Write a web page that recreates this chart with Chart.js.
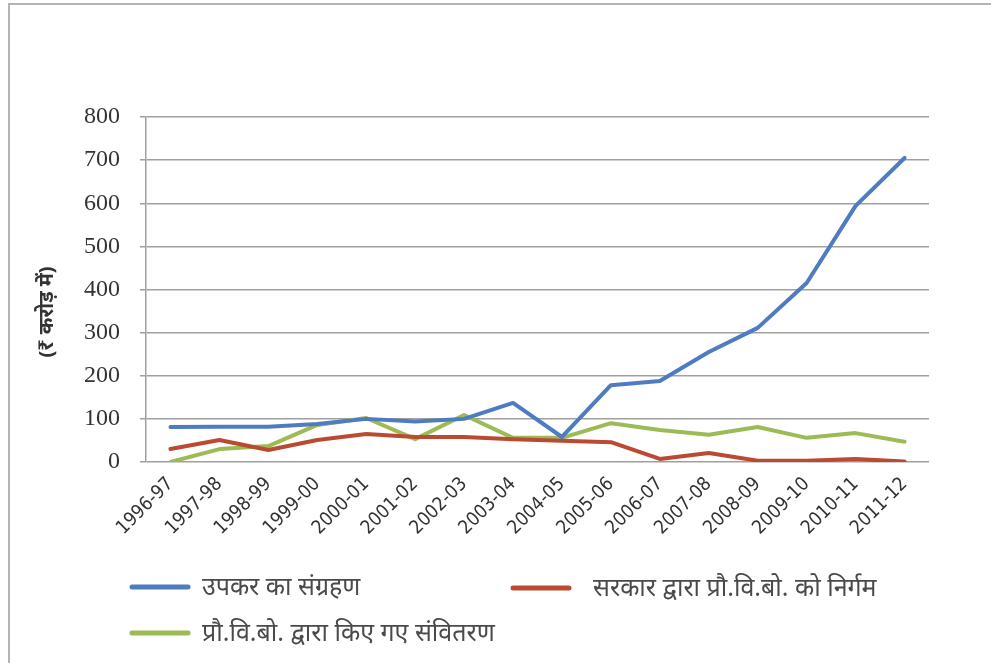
<!DOCTYPE html>
<html>
<head>
<meta charset="utf-8">
<script src="https://cdn.jsdelivr.net/npm/chart.js@4.4.1/dist/chart.umd.min.js"></script>
<style>
  html, body { margin: 0; padding: 0; background: #fff; }
  #wrap { width: 991px; height: 663px; }
</style>
</head>
<body>
<div id="wrap"><canvas id="chart" width="991" height="663"></canvas></div>
<script>
const years = ['1996-97', '1997-98', '1998-99', '1999-00', '2000-01', '2001-02', '2002-03', '2003-04',
               '2004-05', '2005-06', '2006-07', '2007-08', '2008-09', '2009-10', '2010-11', '2011-12'];

// cess collected
const cessCollection = [81, 82, 82, 88, 100, 94, 100, 137, 58, 178, 188, 255, 311, 415, 594, 705];
// released by government to TDB
const govtRelease = [30, 51, 28, 51, 65, 58, 58, 53, 49, 46, 7, 21, 3, 3, 7, 1];
// disbursed by TDB
const tdbDisbursement = [0, 30, 37, 86, 102, 53, 109, 56, 56, 90, 74, 63, 81, 56, 67, 47];

const seriesLabels = ['उपकर का संग्रहण', 'सरकार द्वारा प्रौ.वि.बो. को निर्गम', 'प्रौ.वि.बो. द्वारा किए गए संवितरण'];
const yTicks = [0, 100, 200, 300, 400, 500, 600, 700, 800];
const yTitle = '(₹ करोड़ में)';

const hindiFont = '"Noto Sans", "Noto Sans Devanagari", "Lohit Devanagari", sans-serif';

// white page with the frame lines on the left and top, plus the vertical axis title
const framePlugin = {
    id: 'frame',
    beforeDraw(chart) {
        const ctx = chart.ctx;
        ctx.save();
        ctx.fillStyle = '#fff';
        ctx.fillRect(0, 0, chart.width, chart.height);
        ctx.strokeStyle = '#b4b4b4';
        ctx.lineWidth = 2;
        ctx.beginPath();
        ctx.moveTo(9, chart.height);
        ctx.lineTo(9, 4);
        ctx.lineTo(chart.width, 4);
        ctx.stroke();

        ctx.translate(47, 312);
        ctx.rotate(-Math.PI / 2);
        ctx.fillStyle = '#333';
        ctx.font = 'bold 20px ' + hindiFont;
        ctx.textAlign = 'center';
        ctx.textBaseline = 'middle';
        ctx.fillText(yTitle, 0, 0);
        ctx.restore();
    }
};

// legend in two columns under the axis
const legendSlots = [
    { x: 132, y: 587, textX: 202 },
    { x: 513, y: 588, textX: 593 },
    { x: 132, y: 633, textX: 202 }
];
const legendPlugin = {
    id: 'sideLegend',
    afterDraw(chart) {
        const ctx = chart.ctx;
        ctx.save();
        chart.data.datasets.forEach((ds, i) => {
            const slot = legendSlots[i];
            ctx.strokeStyle = ds.borderColor;
            ctx.lineWidth = 5;
            ctx.lineCap = 'round';
            ctx.beginPath();
            ctx.moveTo(slot.x, slot.y);
            ctx.lineTo(slot.x + 56, slot.y);
            ctx.stroke();
            ctx.fillStyle = '#4a4a4a';
            ctx.font = '25px ' + hindiFont;
            ctx.textBaseline = 'middle';
            ctx.fillText(ds.label, slot.textX, slot.y + 1);
        });
        ctx.restore();
    }
};

new Chart(document.getElementById('chart'), {
    type: 'line',
    data: {
        labels: years,
        datasets: [
            { label: seriesLabels[0], data: cessCollection, borderColor: '#4f7cc0' },
            { label: seriesLabels[1], data: govtRelease, borderColor: '#bb4a33' },
            { label: seriesLabels[2], data: tdbDisbursement, borderColor: '#9dbb55' }
        ]
    },
    options: {
        responsive: false,
        animation: false,
        layout: { padding: { top: 117, right: 62, left: 28, bottom: 128 } },
        elements: {
            line: { borderWidth: 4, tension: 0, borderJoinStyle: 'round', borderCapStyle: 'round' },
            point: { radius: 0 }
        },
        plugins: {
            legend: { display: false },
            tooltip: { enabled: false }
        },
        scales: {
            x: {
                offset: true,
                grid: { display: false },
                border: { display: false },
                ticks: {
                    maxRotation: 45,
                    minRotation: 45,
                    autoSkip: false,
                    padding: 3,
                    color: '#333',
                    font: { family: '"Liberation Sans Narrow", "DejaVu Sans Condensed", sans-serif', size: 19 }
                },
                afterFit(scale) { scale.height = 73; }
            },
            y: {
                min: 0,
                max: 800,
                afterBuildTicks(scale) { scale.ticks = yTicks.map(v => ({ value: v })); },
                grid: { color: '#a0a0a0', lineWidth: 1.5, tickLength: 6, tickColor: '#a0a0a0' },
                border: { color: '#a0a0a0', width: 1.5 },
                ticks: {
                    padding: 20,
                    color: '#333',
                    font: { family: '"Liberation Serif", "DejaVu Serif", serif', size: 24 }
                },
                afterFit(scale) { scale.width = 118; }
            }
        }
    },
    plugins: [framePlugin, legendPlugin]
});
</script>
</body>
</html>
